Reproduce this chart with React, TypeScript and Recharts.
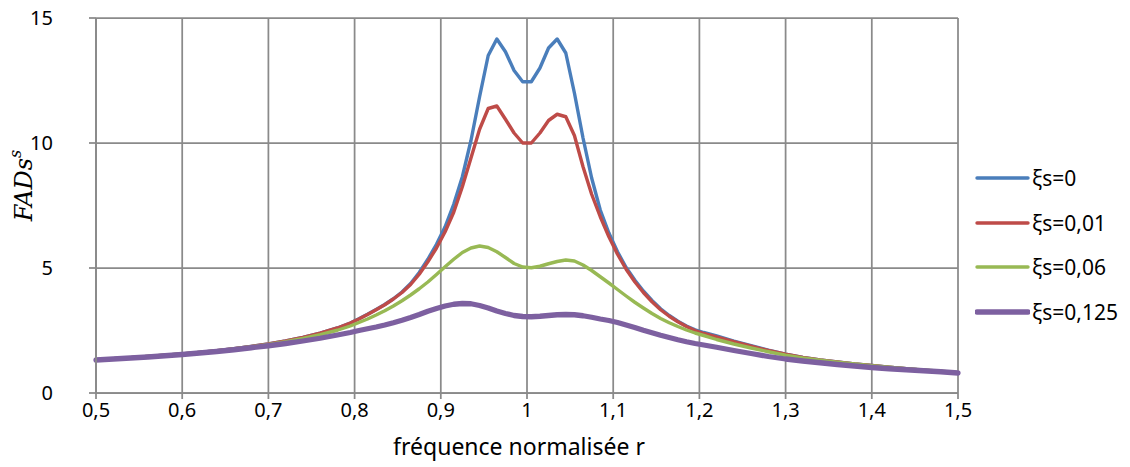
import { LineChart, Line, XAxis, YAxis, CartesianGrid, Label } from "recharts";

// fréquence normalisée r (dense around the resonance)
const rValues = [
  0.5, 0.52, 0.54, 0.56, 0.58, 0.6, 0.62, 0.64, 0.66, 0.68, 0.7, 0.72, 0.74, 0.76, 0.78,
  0.795, 0.805, 0.815, 0.825, 0.835, 0.845, 0.855, 0.865, 0.875, 0.885,
  0.895, 0.905, 0.915, 0.925, 0.935, 0.945, 0.955, 0.965, 0.975, 0.985,
  0.995, 1.005, 1.015, 1.025, 1.035, 1.045, 1.055, 1.065, 1.075, 1.085,
  1.095, 1.105, 1.115, 1.125, 1.135, 1.145, 1.155, 1.165, 1.175, 1.185,
  1.195, 1.205,
  1.22, 1.24, 1.26, 1.28, 1.3, 1.32, 1.34, 1.36, 1.38, 1.4, 1.42, 1.44, 1.46, 1.48, 1.5,
];

const fadXi0 = [
  1.33, 1.37, 1.41, 1.46, 1.51, 1.56, 1.62, 1.69, 1.77, 1.86, 1.96, 2.08, 2.22, 2.39, 2.6,
  2.8, 2.97, 3.15, 3.34, 3.54, 3.77, 4.04, 4.38, 4.82, 5.35,
  5.95, 6.65, 7.55, 8.65, 10.1, 11.85, 13.5, 14.16, 13.65, 12.9,
  12.45, 12.45, 13.0, 13.8, 14.16, 13.6, 12.0, 10.2, 8.6, 7.32,
  6.4, 5.65, 5.02, 4.52, 4.08, 3.7, 3.37, 3.1, 2.87, 2.68,
  2.53, 2.42,
  2.28, 2.07, 1.89, 1.71, 1.55, 1.42, 1.32, 1.24, 1.16, 1.1, 1.03, 0.97, 0.91, 0.86, 0.8,
];

const fadXi001 = [
  1.33, 1.37, 1.41, 1.46, 1.51, 1.56, 1.62, 1.69, 1.77, 1.86, 1.96, 2.08, 2.22, 2.39, 2.6,
  2.8, 2.96, 3.14, 3.33, 3.53, 3.76, 4.02, 4.34, 4.75, 5.25,
  5.8, 6.45, 7.23, 8.25, 9.4, 10.55, 11.38, 11.48, 10.95, 10.4,
  10.0, 10.0, 10.4, 10.9, 11.15, 11.05, 10.3, 9.05, 7.95, 7.05,
  6.25, 5.55, 4.95, 4.45, 4.02, 3.65, 3.33, 3.07, 2.85, 2.66,
  2.5, 2.38,
  2.24, 2.05, 1.87, 1.7, 1.55, 1.42, 1.32, 1.24, 1.16, 1.1, 1.03, 0.97, 0.91, 0.86, 0.8,
];

const fadXi006 = [
  1.33, 1.37, 1.41, 1.46, 1.51, 1.56, 1.62, 1.68, 1.76, 1.85, 1.94, 2.05, 2.18, 2.33, 2.51,
  2.68, 2.82, 2.96, 3.12, 3.29, 3.48, 3.69, 3.92, 4.17, 4.44,
  4.74, 5.05, 5.35, 5.62, 5.8, 5.88, 5.82, 5.65, 5.42, 5.18,
  5.04, 5.01, 5.07, 5.17, 5.26, 5.32, 5.28, 5.12, 4.9, 4.65,
  4.4, 4.14, 3.88, 3.63, 3.4, 3.18, 2.98, 2.81, 2.66, 2.52,
  2.4, 2.3,
  2.14, 1.96, 1.8, 1.65, 1.51, 1.4, 1.31, 1.23, 1.16, 1.09, 1.03, 0.97, 0.92, 0.87, 0.81,
];

const fadXi0125 = [
  1.32, 1.36, 1.4, 1.44, 1.49, 1.54, 1.6, 1.66, 1.73, 1.81, 1.89, 1.98, 2.08, 2.19, 2.32,
  2.42, 2.5, 2.57, 2.64, 2.72, 2.81, 2.91, 3.02, 3.14, 3.27,
  3.38, 3.48, 3.55, 3.58, 3.57, 3.5, 3.4, 3.28, 3.18, 3.1,
  3.06, 3.05, 3.07, 3.1, 3.13, 3.14, 3.13, 3.09, 3.03, 2.96,
  2.9, 2.82, 2.72, 2.62, 2.51, 2.41, 2.31, 2.22, 2.13, 2.05,
  1.98, 1.92,
  1.83, 1.7, 1.58, 1.46, 1.36, 1.28, 1.21, 1.14, 1.08, 1.02, 0.97, 0.93, 0.89, 0.85, 0.8,
];

const xTicks = [0.5, 0.6, 0.7, 0.8, 0.9, 1, 1.1, 1.2, 1.3, 1.4, 1.5];
const yTicks = [0, 5, 10, 15];

const series = [
  { key: "xi0", name: "ξs=0", color: "#4A7EBB", width: 3.4, values: fadXi0 },
  { key: "xi001", name: "ξs=0,01", color: "#BE4B48", width: 3.4, values: fadXi001 },
  { key: "xi006", name: "ξs=0,06", color: "#98B954", width: 3.4, values: fadXi006 },
  { key: "xi0125", name: "ξs=0,125", color: "#7D60A0", width: 5.3, values: fadXi0125 },
];

const data = rValues.map((r, i) => {
  const row: Record<string, number> = { r };
  series.forEach((s) => {
    row[s.key] = s.values[i];
  });
  return row;
});

const GRID = "#8a8a8a";
const FONT = "'Noto Sans', sans-serif";

const fmt = (v: number) => String(v).replace(".", ",");

const renderYTitle = (props: any) => {
  const vb = props.viewBox || { x: 0, y: 10, width: 88, height: 375 };
  const cx = vb.x + 16;
  const cy = vb.y + vb.height / 2 - 20;
  return (
    <text
      x={cx}
      y={cy}
      transform={`rotate(-90 ${cx} ${cy})`}
      textAnchor="middle"
      dominantBaseline="central"
      fontFamily="'DejaVu Serif', serif"
      fontStyle="italic"
      fontSize={24}
      fill="#000"
    >
      FADs
      <tspan dy={-9} fontSize={16}>
        s
      </tspan>
    </text>
  );
};

const renderXTitle = (props: any) => {
  const vb = props.viewBox || { x: 88, y: 385, width: 862, height: 66 };
  return (
    <text
      x={vb.x + vb.width / 2 - 8}
      y={vb.y + 62}
      textAnchor="middle"
      fontFamily={FONT}
      fontSize={23}
      fill="#000"
    >
      fréquence normalisée r
    </text>
  );
};

const App = () => {
  return (
    <div style={{ position: "relative", width: 1114, height: 457, fontFamily: FONT }}>
      <style>{".recharts-surface { overflow: visible; }"}</style>
      <LineChart
        width={1114}
        height={457}
        data={data}
        margin={{ top: 10, right: 164, bottom: 6, left: 0 }}
      >
        <CartesianGrid stroke={GRID} strokeWidth={1.75} />
        <XAxis
          dataKey="r"
          type="number"
          domain={[0.5, 1.5]}
          ticks={xTicks}
          tickFormatter={fmt}
          height={66}
          axisLine={{ stroke: GRID, strokeWidth: 1.75 }}
          tickLine={{ stroke: GRID, strokeWidth: 1.75 }}
          tickSize={6}
          tickMargin={4}
          tick={{ fontSize: 20, fill: "#000", fontFamily: FONT }}
          interval={0}
        >
          <Label content={renderXTitle} />
        </XAxis>
        <YAxis
          type="number"
          domain={[0, 15]}
          ticks={yTicks}
          width={88}
          axisLine={{ stroke: GRID, strokeWidth: 1.75 }}
          tickLine={{ stroke: GRID, strokeWidth: 1.75 }}
          tickSize={7}
          tickMargin={36}
          tick={{ fontSize: 20, fill: "#000", fontFamily: FONT }}
          interval={0}
        >
          <Label content={renderYTitle} />
        </YAxis>
        {series.map((s) => (
          <Line
            key={s.key}
            type="linear"
            dataKey={s.key}
            name={s.name}
            stroke={s.color}
            strokeWidth={s.width}
            strokeLinejoin="round"
            strokeLinecap="round"
            dot={false}
            activeDot={false}
            isAnimationActive={false}
          />
        ))}
      </LineChart>

      <div style={{ position: "absolute", left: 967, top: 148 }}>
        {series.map((s) => (
          <div
            key={s.key}
            style={{ display: "flex", alignItems: "center", height: 44.5 }}
          >
            <svg width={55} height={10} style={{ display: "block" }}>
              <line
                x1={2}
                y1={5}
                x2={53}
                y2={5}
                stroke={s.color}
                strokeWidth={s.width}
                strokeLinecap="round"
              />
            </svg>
            <span style={{ fontSize: 21, color: "#000", marginLeft: 2, whiteSpace: "nowrap" }}>
              {s.name}
            </span>
          </div>
        ))}
      </div>
    </div>
  );
};

export default App;
